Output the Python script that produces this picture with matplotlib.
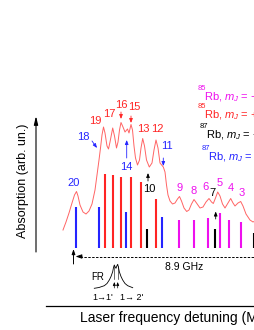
import numpy as np
import matplotlib
matplotlib.use("Agg")
import matplotlib.pyplot as plt

plt.rcParams['font.family'] = ['Liberation Sans', 'DejaVu Sans']
plt.rcParams['mathtext.fontset'] = 'custom'
plt.rcParams['mathtext.rm'] = 'Liberation Sans'
plt.rcParams['mathtext.it'] = 'Liberation Sans:italic'

# picture frame units: x to the right, y measured down from top (flipped below)
H = 330

# absorption spectrum, traced
spec_x = [63, 66, 69, 72, 74.5, 76.5, 78, 80, 83, 86, 89, 92, 95, 97, 99, 100.5,
          102, 103.5, 105, 107, 108.5, 110, 112.7, 114.5, 116.5, 118, 119.5, 121,
          123, 125, 127.5, 129, 131, 132.5, 134, 135.5, 137.5, 139.5, 141, 142.7,
          144.5, 146.5, 149.3, 152, 154, 156, 158, 160, 163.3, 165, 166.5, 168,
          170, 172.5, 175, 177.5, 179.5, 181.5, 184, 186.7, 189, 191.5, 194,
          196.5, 200, 203, 206, 209, 211.5, 213.3, 215.5, 217.7, 220, 222.5, 225,
          228, 230.7, 233, 235, 238, 240.7, 243, 246, 250, 253, 255]
spec_y = [230, 222, 213, 203, 195, 191.5, 196, 205, 212, 214, 211, 204, 190, 175,
          160, 148, 135, 127, 133, 146, 149, 142, 128, 136, 148, 142, 130, 122.5,
          127, 132, 129, 133, 124.5, 130, 146, 158, 165, 160, 148, 138.5, 146, 160,
          167, 163, 150, 140, 148, 163, 167, 172, 185, 195, 201, 204, 203, 199,
          196.5, 201, 208, 211.5, 210, 204, 199.5, 203, 208, 207, 202, 198.5, 202,
          203.5, 198, 192, 196, 204, 208, 203, 198.5, 203, 206, 203, 201.5, 206,
          214, 220, 222, 221]

# transition lines
line_x = [75.7, 99.3, 105, 113.3, 121, 126, 130.7, 140.7, 147.3, 156, 162.3,
          179, 193.7, 207.7, 215.3, 220, 229.3, 240.7, 254.3]
line_top = [207, 207, 174, 175, 177, 212, 177, 182, 229, 199, 217,
            220, 220, 218, 229, 213, 220, 222, 233]
line_kind = ['b', 'b', 'r', 'r', 'r', 'b', 'r', 'r', 'k', 'r', 'b',
             'm', 'm', 'm', 'k', 'm', 'm', 'm', 'k']
line_base = 248

# peak numbers
lab_text = ['20', '18', '19', '17', '16', '15', '13', '12', '11', '14', '10',
            '9', '8', '6', '7', '5', '4', '3', '2']
lab_x = [74, 83, 95, 109, 121, 134, 143, 157, 167, 126, 149.5,
         180, 194, 206, 212.7, 219.3, 231, 241.7, 257]
lab_y = [183, 137, 121, 114, 105, 107, 129, 129, 146, 167, 189,
         188, 191, 187, 193, 183, 188, 193, 199]
lab_kind = ['b', 'b', 'r', 'r', 'r', 'r', 'r', 'r', 'b', 'b', 'k',
            'm', 'm', 'm', 'k', 'm', 'm', 'm', 'k']

# small pointer arrows
arr_from = [(92, 141), (121, 112), (131, 116), (126.7, 158), (163.3, 158), (148, 181), (215.7, 219)]
arr_to = [(97, 148), (121, 119), (131, 123), (126.7, 140), (163.3, 166), (148, 173), (215.7, 211.5)]
arr_kind = ['b', 'r', 'r', 'b', 'b', 'k', 'k']

# legend rows
leg_iso = ['85', '85', '87', '87']
leg_sign = ['-', '+', '-', '+']
leg_x = [198, 198, 200, 202]
leg_y = [97, 115, 135, 157]
leg_kind = ['m', 'r', 'k', 'b']

# Fabry-Perot reference inset
fr_x = [94.3, 99, 104.3, 107, 109.3, 111, 112.7, 113.5, 114.3, 115.2, 116, 116.8,
        117.7, 118.5, 119.3, 121, 122.7, 125, 127.7, 132.7]
fr_y = [288.3, 287.5, 285.7, 283.5, 280, 276.5, 271.7, 267.5, 265, 267, 268.3, 266,
        264.3, 267.5, 271.7, 276.5, 280, 283.5, 285.7, 287.7]
fr_peaks = [114.3, 117.7]

colors = {'r': '#ff2424', 'b': '#2424ff', 'k': '#000000', 'm': '#ee10ee'}


def fy(v):
    return H - np.asarray(v, dtype=float)


fig = plt.figure(figsize=(2.55, 3.30), dpi=100)
ax = fig.add_axes([0, 0, 1, 1])
ax.set_xlim(0, 255)
ax.set_ylim(0, H)
ax.axis('off')

ax.plot(spec_x, fy(spec_y), color='#ff6464', lw=0.7)

for x, t, k in zip(line_x, line_top, line_kind):
    ax.plot([x, x], [fy(line_base), fy(t)], color=colors[k], lw=1.5,
            solid_capstyle='butt')

for s, x, y, k in zip(lab_text, lab_x, lab_y, lab_kind):
    ax.text(x, fy(y), s, color=colors[k], fontsize=8, ha='center', va='center')

for (x0, y0), (x1, y1), k in zip(arr_from, arr_to, arr_kind):
    ax.annotate('', xy=(x1, fy(y1)), xytext=(x0, fy(y0)),
                arrowprops=dict(arrowstyle='-|>,head_length=0.25,head_width=0.1',
                                color=colors[k], lw=0.6, shrinkA=0, shrinkB=0))

for iso, sg, x, y, k in zip(leg_iso, leg_sign, leg_x, leg_y, leg_kind):
    ax.text(x, fy(y - 9), iso, color=colors[k], fontsize=5.5, ha='left', va='center')
    ax.text(x + 6.5, fy(y), 'Rb, $m_J$ = ' + ('\u2212' if sg == '-' else '+') + '1/2',
            color=colors[k], fontsize=8, ha='left', va='center')

# axes drawn as arrows
ax.annotate('', xy=(36, fy(116)), xytext=(36, fy(252)),
            arrowprops=dict(arrowstyle='-|>,head_length=0.5,head_width=0.12',
                            color='black', lw=0.8, shrinkA=0, shrinkB=0))
ax.plot([46, 260], [fy(306), fy(306)], color='black', lw=0.9)
ax.text(23, fy(181), 'Absorption (arb. un.)', rotation=90, fontsize=9,
        ha='center', va='center')
ax.text(80, fy(318), 'Laser frequency detuning (MHz)', fontsize=10,
        ha='left', va='center')

# 8.9 GHz span
ax.plot([80, 256], [fy(256.5), fy(256.5)], color='black', lw=0.7, ls=(0, (2.5, 1.5)))
ax.annotate('', xy=(75.5, fy(256.5)), xytext=(82, fy(256.5)),
            arrowprops=dict(arrowstyle='-|>,head_length=0.35,head_width=0.12',
                            color='black', lw=0.7, shrinkA=0, shrinkB=0))
ax.annotate('', xy=(73.5, fy(249)), xytext=(73.5, fy(264)),
            arrowprops=dict(arrowstyle='-|>,head_length=0.3,head_width=0.1',
                            color='black', lw=0.7, shrinkA=0, shrinkB=0))
ax.text(184, fy(267), '8.9 GHz', fontsize=7.5, ha='center', va='center')

# FR inset
ax.plot(fr_x, fy(fr_y), color='black', lw=0.6)
for px in fr_peaks:
    ax.plot([px, px], [fy(266), fy(279)], color='black', lw=0.4)
    ax.annotate('', xy=(px, fy(282)), xytext=(px, fy(288)),
                arrowprops=dict(arrowstyle='-|>,head_length=0.2,head_width=0.08',
                                color='black', lw=0.5, shrinkA=0, shrinkB=0))
ax.text(98, fy(277), 'FR', fontsize=7, ha='center', va='center')
ax.text(102.7, fy(297.5), "1\u21921'", fontsize=6.5, ha='center', va='center')
ax.text(131.7, fy(297.5), "1\u2192 2'", fontsize=6.5, ha='center', va='center')

fig.savefig('out.png', dpi=100)
